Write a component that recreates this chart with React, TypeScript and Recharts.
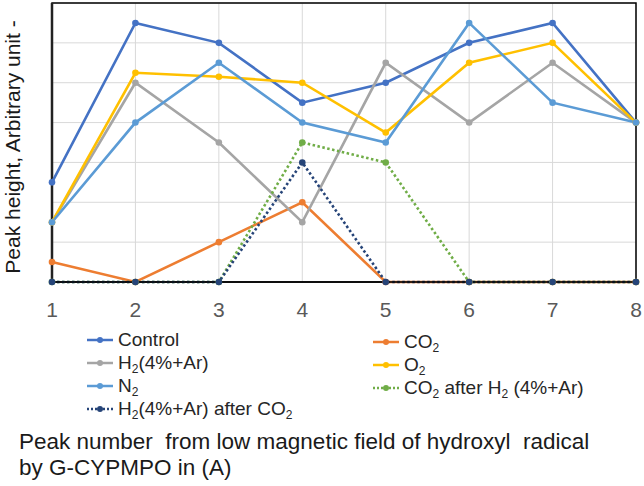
import React from 'react';
import { LineChart, Line, XAxis, YAxis, CartesianGrid, ReferenceArea, ReferenceLine } from 'recharts';

const peakNumbers = [1, 2, 3, 4, 5, 6, 7, 8];
const controlValues = [2.5, 6.5, 6, 4.5, 5, 6, 6.5, 4];
const co2Values = [0.5, 0, 1, 2, 0, 0, 0, 0];
const h2Values = [1.5, 5, 3.5, 1.5, 5.5, 4, 5.5, 4];
const o2Values = [1.5, 5.25, 5.15, 5, 3.75, 5.5, 6, 4];
const n2Values = [1.5, 4, 5.5, 4, 3.5, 6.5, 4.5, 4];
const co2AfterH2Values = [0, 0, 0, 3.5, 3, 0, 0, 0];
const h2AfterCo2Values = [0, 0, 0, 3, 0, 0, 0, 0];
const yTicks = [0, 1, 2, 3, 4, 5, 6, 7];

const data = peakNumbers.map((x, i) => ({
  x,
  control: controlValues[i],
  co2: co2Values[i],
  h2: h2Values[i],
  o2: o2Values[i],
  n2: n2Values[i],
  co2AfterH2: co2AfterH2Values[i],
  h2AfterCo2: h2AfterCo2Values[i],
}));

type Part = { t: string; sub?: boolean };
type SeriesDef = { key: string; color: string; dotted?: boolean; label: Part[] };

const series: SeriesDef[] = [
  { key: 'control', color: '#4472C4', label: [{ t: 'Control' }] },
  { key: 'co2', color: '#ED7D31', label: [{ t: 'CO' }, { t: '2', sub: true }] },
  { key: 'h2', color: '#A5A5A5', label: [{ t: 'H' }, { t: '2', sub: true }, { t: '(4%+Ar)' }] },
  { key: 'o2', color: '#FFC000', label: [{ t: 'O' }, { t: '2', sub: true }] },
  { key: 'n2', color: '#5B9BD5', label: [{ t: 'N' }, { t: '2', sub: true }] },
  {
    key: 'co2AfterH2',
    color: '#70AD47',
    dotted: true,
    label: [{ t: 'CO' }, { t: '2', sub: true }, { t: ' after H' }, { t: '2', sub: true }, { t: ' (4%+Ar)' }],
  },
  {
    key: 'h2AfterCo2',
    color: '#264478',
    dotted: true,
    label: [{ t: 'H' }, { t: '2', sub: true }, { t: '(4%+Ar) after CO' }, { t: '2', sub: true }],
  },
];

const FONT = '"Liberation Sans", Arial, sans-serif';

function LegendItem({ s }: { s: SeriesDef }) {
  return (
    <div style={{ display: 'flex', alignItems: 'center', height: 23 }}>
      <svg width={26} height={10} style={{ marginRight: 5 }}>
        <line
          x1={0}
          y1={5}
          x2={26}
          y2={5}
          stroke={s.color}
          strokeWidth={2.5}
          strokeDasharray={s.dotted ? '2 2' : undefined}
        />
        <circle cx={13} cy={5} r={3} fill={s.color} />
      </svg>
      <span style={{ fontSize: 19, lineHeight: '20px', color: '#262626', whiteSpace: 'nowrap' }}>
        {s.label.map((p, i) =>
          p.sub ? (
            <span key={i} style={{ fontSize: 12, lineHeight: '12px', position: 'relative', top: 4 }}>
              {p.t}
            </span>
          ) : (
            <span key={i} style={{ whiteSpace: 'pre' }}>{p.t}</span>
          )
        )}
      </span>
    </div>
  );
}

export default function App() {
  const col1 = [series[0], series[2], series[4], series[6]];
  const col2 = [series[1], series[3], series[5]];
  return (
    <div style={{ position: 'absolute', left: 0, top: 0, width: 644, height: 486, background: '#fff', fontFamily: FONT }}>
      <LineChart width={644} height={486} data={data} margin={{ top: 3, right: 8, bottom: 174, left: 52 }}>
        <CartesianGrid stroke="#d9d9d9" strokeWidth={1} />
        <XAxis
          dataKey="x"
          type="number"
          domain={[1, 8]}
          ticks={peakNumbers}
          tickLine={false}
          tickSize={0}
          tickMargin={20}
          axisLine={{ stroke: '#000', strokeWidth: 1.5 }}
          tick={{ fill: '#595959', fontSize: 21, fontFamily: FONT }}
          height={30}
        />
        <YAxis hide domain={[0, 7]} ticks={yTicks} type="number" />
        <ReferenceArea x1={1} x2={8} y1={0} y2={7} fill="none" stroke="#000" strokeWidth={1.5} ifOverflow="visible" />
        <ReferenceLine x={1} stroke="#222" strokeWidth={2.5} ifOverflow="visible" />
        {series.map((s) => (
          <Line
            key={s.key}
            dataKey={s.key}
            type="linear"
            stroke={s.color}
            strokeWidth={2.6}
            strokeDasharray={s.dotted ? '2.5 2.5' : undefined}
            dot={{ r: 3.3, fill: s.color, stroke: s.color, strokeWidth: 0, strokeDasharray: '' }}
            activeDot={false}
            isAnimationActive={false}
          />
        ))}
      </LineChart>
      <svg width={40} height={290} style={{ position: 'absolute', left: 0, top: 0 }}>
        <text
          x={20}
          y={147}
          transform="rotate(-90 20 147)"
          textAnchor="middle"
          fontSize={21}
          fontFamily={FONT}
          fill="#1a1a1a"
        >
          Peak height, Arbitrary unit -
        </text>
      </svg>
      <div style={{ position: 'absolute', left: 87, top: 328 }}>
        {col1.map((s) => (
          <LegendItem key={s.key} s={s} />
        ))}
      </div>
      <div style={{ position: 'absolute', left: 373, top: 330 }}>
        {col2.map((s) => (
          <LegendItem key={s.key} s={s} />
        ))}
      </div>
      <div
        style={{
          position: 'absolute',
          left: 19,
          top: 429,
          fontSize: 22.5,
          lineHeight: '26px',
          color: '#1a1a1a',
          whiteSpace: 'pre',
        }}
      >
        {'Peak number  from low magnetic field of hydroxyl  radical\nby G-CYPMPO in (A)'}
      </div>
    </div>
  );
}
